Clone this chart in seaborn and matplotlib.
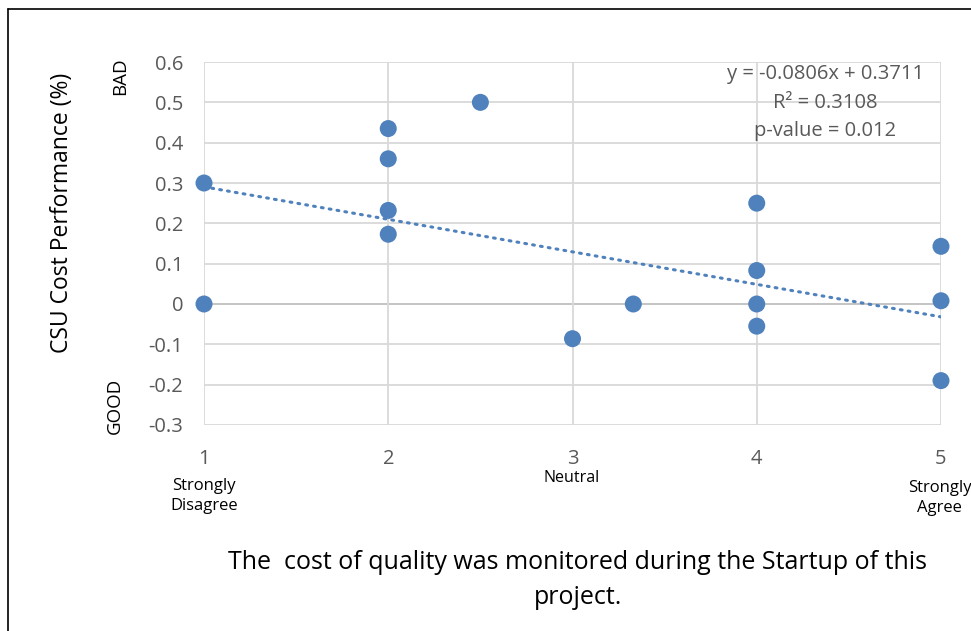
import matplotlib
matplotlib.use("Agg")
import matplotlib.pyplot as plt
from matplotlib.lines import Line2D
import numpy as np
import pandas as pd
import seaborn as sns

# survey answer (1-5) vs CSU cost performance
answer = [1, 1, 2, 2, 2, 2, 2.5, 3, 3.33, 4, 4, 4, 4, 5, 5, 5]
cost_perf = [0.30, 0.0, 0.435, 0.36, 0.232, 0.173, 0.50, -0.086, 0.0,
             0.25, 0.083, 0.0, -0.055, 0.143, 0.008, -0.19]

# trendline as reported
slope = -0.0806
intercept = 0.3711
trend_text = ["y = -0.0806x + 0.3711", "R² = 0.3108", "p-value = 0.012"]

x_ticks = [1, 2, 3, 4, 5]
y_ticks = [-0.3, -0.2, -0.1, 0, 0.1, 0.2, 0.3, 0.4, 0.5, 0.6]
y_tick_labels = ["-0.3", "-0.2", "-0.1", "0", "0.1", "0.2", "0.3", "0.4", "0.5", "0.6"]

df = pd.DataFrame({"answer": answer, "cost": cost_perf})

sns.set_style("white")
plt.rcParams["font.family"] = ["Open Sans", "DejaVu Sans"]

blue = "#4F81BD"
grid_c = "#D9D9D9"
txt_c = "#595959"

fig = plt.figure(figsize=(9.71, 6.31), dpi=100)
ax = fig.add_axes([0.2101, 0.3265, 0.759, 0.5752])

# grid
for yv in y_ticks:
    ax.axhline(yv, color="#BFBFBF" if yv == 0 else grid_c, lw=1.3, zorder=0)
for xv in x_ticks:
    ax.axvline(xv, color=grid_c, lw=1.3, zorder=0)

# trendline
xs = np.array([min(answer), max(answer)])
ax.plot(xs, slope * xs + intercept, color=blue, lw=2.2,
        linestyle=(0, (0.6, 2.0)), dash_capstyle="round", zorder=2)

sns.scatterplot(data=df, x="answer", y="cost", ax=ax, color=blue, s=150,
                edgecolor="none", zorder=3, clip_on=False)

ax.set_xlim(1, 5)
ax.set_ylim(-0.3, 0.6)
ax.set_xticks(x_ticks)
ax.set_yticks(y_ticks)
ax.set_yticklabels(y_tick_labels)
ax.tick_params(axis="both", length=0, labelsize=14.5, colors=txt_c)
ax.tick_params(axis="x", pad=17)
ax.tick_params(axis="y", pad=15)
for s in ax.spines.values():
    s.set_visible(False)
ax.set_xlabel("")
ax.set_ylabel("")

# regression text
for i, t in enumerate(trend_text):
    ax.text(0.843, 0.967 - i * 0.079, t, transform=ax.transAxes,
            ha="center", va="center", fontsize=14.5, color=txt_c)

# annotations in figure coords
fig.text(0.064, 0.662, "CSU Cost Performance (%)", rotation=90, ha="center",
         va="center", fontsize=16.5, color="black")
fig.text(0.124, 0.88, "BAD", rotation=90, ha="center", va="center",
         fontsize=13.5, color="black")
fig.text(0.118, 0.357, "GOOD", rotation=90, ha="center", va="center",
         fontsize=13.5, color="black")
fig.text(0.21, 0.214, "Strongly\nDisagree", ha="center", va="center",
         fontsize=12, color="black", linespacing=1.35)
fig.text(0.589, 0.243, "Neutral", ha="center", va="center",
         fontsize=11.5, color="black")
fig.text(0.968, 0.211, "Strongly\nAgree", ha="center", va="center",
         fontsize=12, color="black", linespacing=1.35)
fig.text(0.595, 0.081, "The  cost of quality was monitored during the Startup of this\nproject.",
         ha="center", va="center", fontsize=18, color="black", linespacing=1.55)

# outer frame (left and top edges)
fig.add_artist(Line2D([0.0082, 0.0082], [0, 0.9857], color="black", lw=1.2,
                      transform=fig.transFigure))
fig.add_artist(Line2D([0.0082, 1], [0.9857, 0.9857], color="black", lw=1.2,
                      transform=fig.transFigure))

fig.savefig("out.png", dpi=100)
